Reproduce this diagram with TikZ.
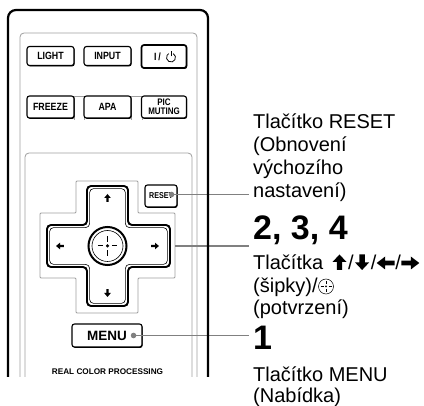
\documentclass[tikz,border=0pt]{standalone}
\usepackage{fontspec}
\setmainfont{Liberation Sans}
\newfontfamily\keyfont{Liberation Sans}[FakeStretch=0.84]
\usetikzlibrary{shadows}

\definecolor{leadgray}{gray}{0.5}
\definecolor{panelgray}{gray}{0.62}

\tikzset{
  key/.style={draw, fill=white, line width=1.1pt, rounded corners=2.5pt,
    minimum width=47pt, minimum height=19pt, inner sep=0pt, align=center,
    font=\keyfont\bfseries\fontsize{10.5}{9.5}\selectfont,
    drop shadow={shadow xshift=0.7pt, shadow yshift=-0.9pt, opacity=1, fill=black}},
  panel/.style={draw=panelgray, line width=0.8pt, rounded corners=4pt},
  lead/.style={draw=leadgray, line width=1.1pt},
  leaddot/.style={fill=leadgray},
  lbl/.style={anchor=base west, inner sep=4pt, font=\fontsize{20}{22}\selectfont},
  slash/.style={anchor=base west, inner sep=0pt, font=\fontsize{20}{22}\selectfont},
  bignum/.style={anchor=base west, inner sep=4pt, font=\bfseries\fontsize{34}{34}\selectfont},
  % small arrows printed on the pad
  padarrow/.pic={\fill (0,-4) -- (3.3,0) -- (1.1,0) -- (1.1,3.8) -- (-1.1,3.8) -- (-1.1,0) -- (-3.3,0) -- cycle;},
  crosshair/.pic={\fill (0,0) circle (1);
    \draw (-5.5,0) -- (-2.5,0) (2.5,0) -- (5.5,0) (0,-5.5) -- (0,-2.5) (0,2.5) -- (0,5.5);},
  powermark/.pic={\draw (-60:4.5) arc (-60:240:4.5); \draw (0,-1.2) -- (0,-6.2);},
  % heavy arrows of the label line, origin at the left of the glyph on the baseline
  heavyup/.pic={\fill (5.8,0) -- (11.2,0) -- (11.2,-8) -- (15.5,-8) -- (8.5,-15.5) -- (1.5,-8) -- (5.8,-8) -- cycle;},
  heavydown/.pic={\fill (5.8,-15.5) -- (11.2,-15.5) -- (11.2,-7.5) -- (15.5,-7.5) -- (8.5,0) -- (1.5,-7.5) -- (5.8,-7.5) -- cycle;},
  heavyleft/.pic={\fill (0.5,-7) -- (9,-13.5) -- (9,-9.4) -- (18.5,-9.4) -- (18.5,-4.6) -- (9,-4.6) -- (9,-0.5) -- cycle;},
  heavyright/.pic={\fill (18.5,-7) -- (10,-13.5) -- (10,-9.4) -- (0.5,-9.4) -- (0.5,-4.6) -- (10,-4.6) -- (10,-0.5) -- cycle;}
}

\begin{document}
\begin{tikzpicture}[x=1pt,y=-1pt]
\useasboundingbox (0,0) rectangle (424,406);

% inner panels of the remote
\draw[panel] (20,377) -- (20,33) -- (197,33) -- (197,377);
\draw[panel] (25,377) -- (25,153) -- (192,153) -- (192,377);
\draw[panel, rounded corners=0pt] (74,120) -- (74,96) -- (84,96) -- (84,120);
\draw[panel, rounded corners=0pt] (131,120) -- (131,96) -- (142,96) -- (142,120);

% top keys
\node[key] (light) at (50.5,56) {LIGHT};
\node[key] (input) at (107.5,56) {INPUT};
\node[key, minimum width=45pt, minimum height=23pt, line width=1.7pt] (power) at (164,56.5) {I\,/\hspace{13pt}};
\pic[line width=0.8pt] at ([shift={(7pt,-1pt)}]power.center) {powermark};
\node[key, minimum height=22pt] (freeze) at (50.5,107) {FREEZE};
\node[key, minimum height=22pt] (apa) at (107.5,107) {APA};
\node[key, minimum width=45pt, minimum height=22pt, font=\keyfont\bfseries\fontsize{9.5}{9}\selectfont] (muting) at (164,107) {PIC\\MUTING};

% direction pad
\draw[panel, rounded corners=1pt] (76,181) -- (138,181) -- (138,213) -- (175,213) -- (175,278) -- (138,278) -- (138,313) -- (76,313) -- (76,278) -- (40,278) -- (40,213) -- (76,213) -- cycle;
\foreach \d/\w in {0/1.9pt, 2.6/0.6pt}
  \draw[line width=\w, rounded corners=4pt, fill=white] (87+\d,186+\d) -- (128-\d,186+\d) -- (128-\d,225+\d) -- (170-\d,225+\d) -- (170-\d,267-\d) -- (128-\d,267-\d) -- (128-\d,306-\d) -- (87+\d,306-\d) -- (87+\d,267-\d) -- (47+\d,267-\d) -- (47+\d,225+\d) -- (87+\d,225+\d) -- cycle;
\draw[line width=2pt, fill=white] (107.5,246) circle (19);
\draw[line width=0.6pt] (107.5,246) circle (15.5);
\pic[scale=1.75, line width=1pt] at (107.5,246) {crosshair};
\pic at (107.5,198) {padarrow};
\pic[rotate=180] at (107.5,293) {padarrow};
\pic[rotate=90] at (60,246) {padarrow};
\pic[rotate=-90] at (155,246) {padarrow};
\coordinate (padedge) at (175,246);

\node[key, minimum width=32pt, minimum height=22pt, font=\keyfont\bfseries\fontsize{8.5}{9}\selectfont] (reset) at (161,196) {RESET};
\node[key, minimum width=70pt, minimum height=23pt, font=\bfseries\fontsize{13.5}{14}\selectfont] (menu) at (107,335.5) {MENU};
\node[anchor=base, inner sep=0pt, font=\bfseries\fontsize{8.2}{9}\selectfont] (brand) at (107.5,375) {REAL COLOR PROCESSING};

% labels
\foreach \i/\y/\txt in {1/129/Tlačítko RESET, 2/152/(Obnovení, 3/175/výchozího, 4/198/nastavení)}
  \node[lbl] (rl\i) at (249,\y) {\txt};
\node[bignum] (steps) at (249,240) {2, 3, 4};
\node[lbl] (al1) at (249,270) {Tlačítka};
\pic at (331,270) {heavyup};
\node[slash] (sl1) at (348,270) {/};
\pic at (353.6,270) {heavydown};
\node[slash] (sl2) at (370.6,270) {/};
\pic at (376.2,270) {heavyleft};
\node[slash] (sl3) at (395.2,270) {/};
\pic at (400.8,270) {heavyright};
\node[lbl] (al2) at (249,292.5) {(šipky)/};
\draw[line width=0.5pt] (326,286.5) circle (7.5);
\pic[line width=0.6pt] at (326,286.5) {crosshair};
\node[lbl] (al3) at (249,315) {(potvrzení)};
\node[bignum] (one) at (249,350) {1};
\node[lbl] (ml1) at (249,382) {Tlačítko MENU};
\node[lbl] (ml2) at (249,403) {(Nabídka)};

% leader lines
\coordinate (resetdot) at ([shift={(-6pt,1.5pt)}]reset.east);
\coordinate (menudot) at ([xshift=-9pt]menu.east);
\draw[lead] (resetdot) -- (resetdot -| rl4.west);
\draw[lead] (padedge) -- (padedge -| steps.west);
\draw[lead] (menudot) -- (menudot -| one.west);

% case of the remote
\draw[line width=2.2pt, rounded corners=8pt] (8,377) -- (8,10) -- (208,10) -- (208,377);

\fill[leaddot] (resetdot) circle (2.8);
\fill[leaddot] (menudot) circle (2.8);
\end{tikzpicture}
\end{document}
